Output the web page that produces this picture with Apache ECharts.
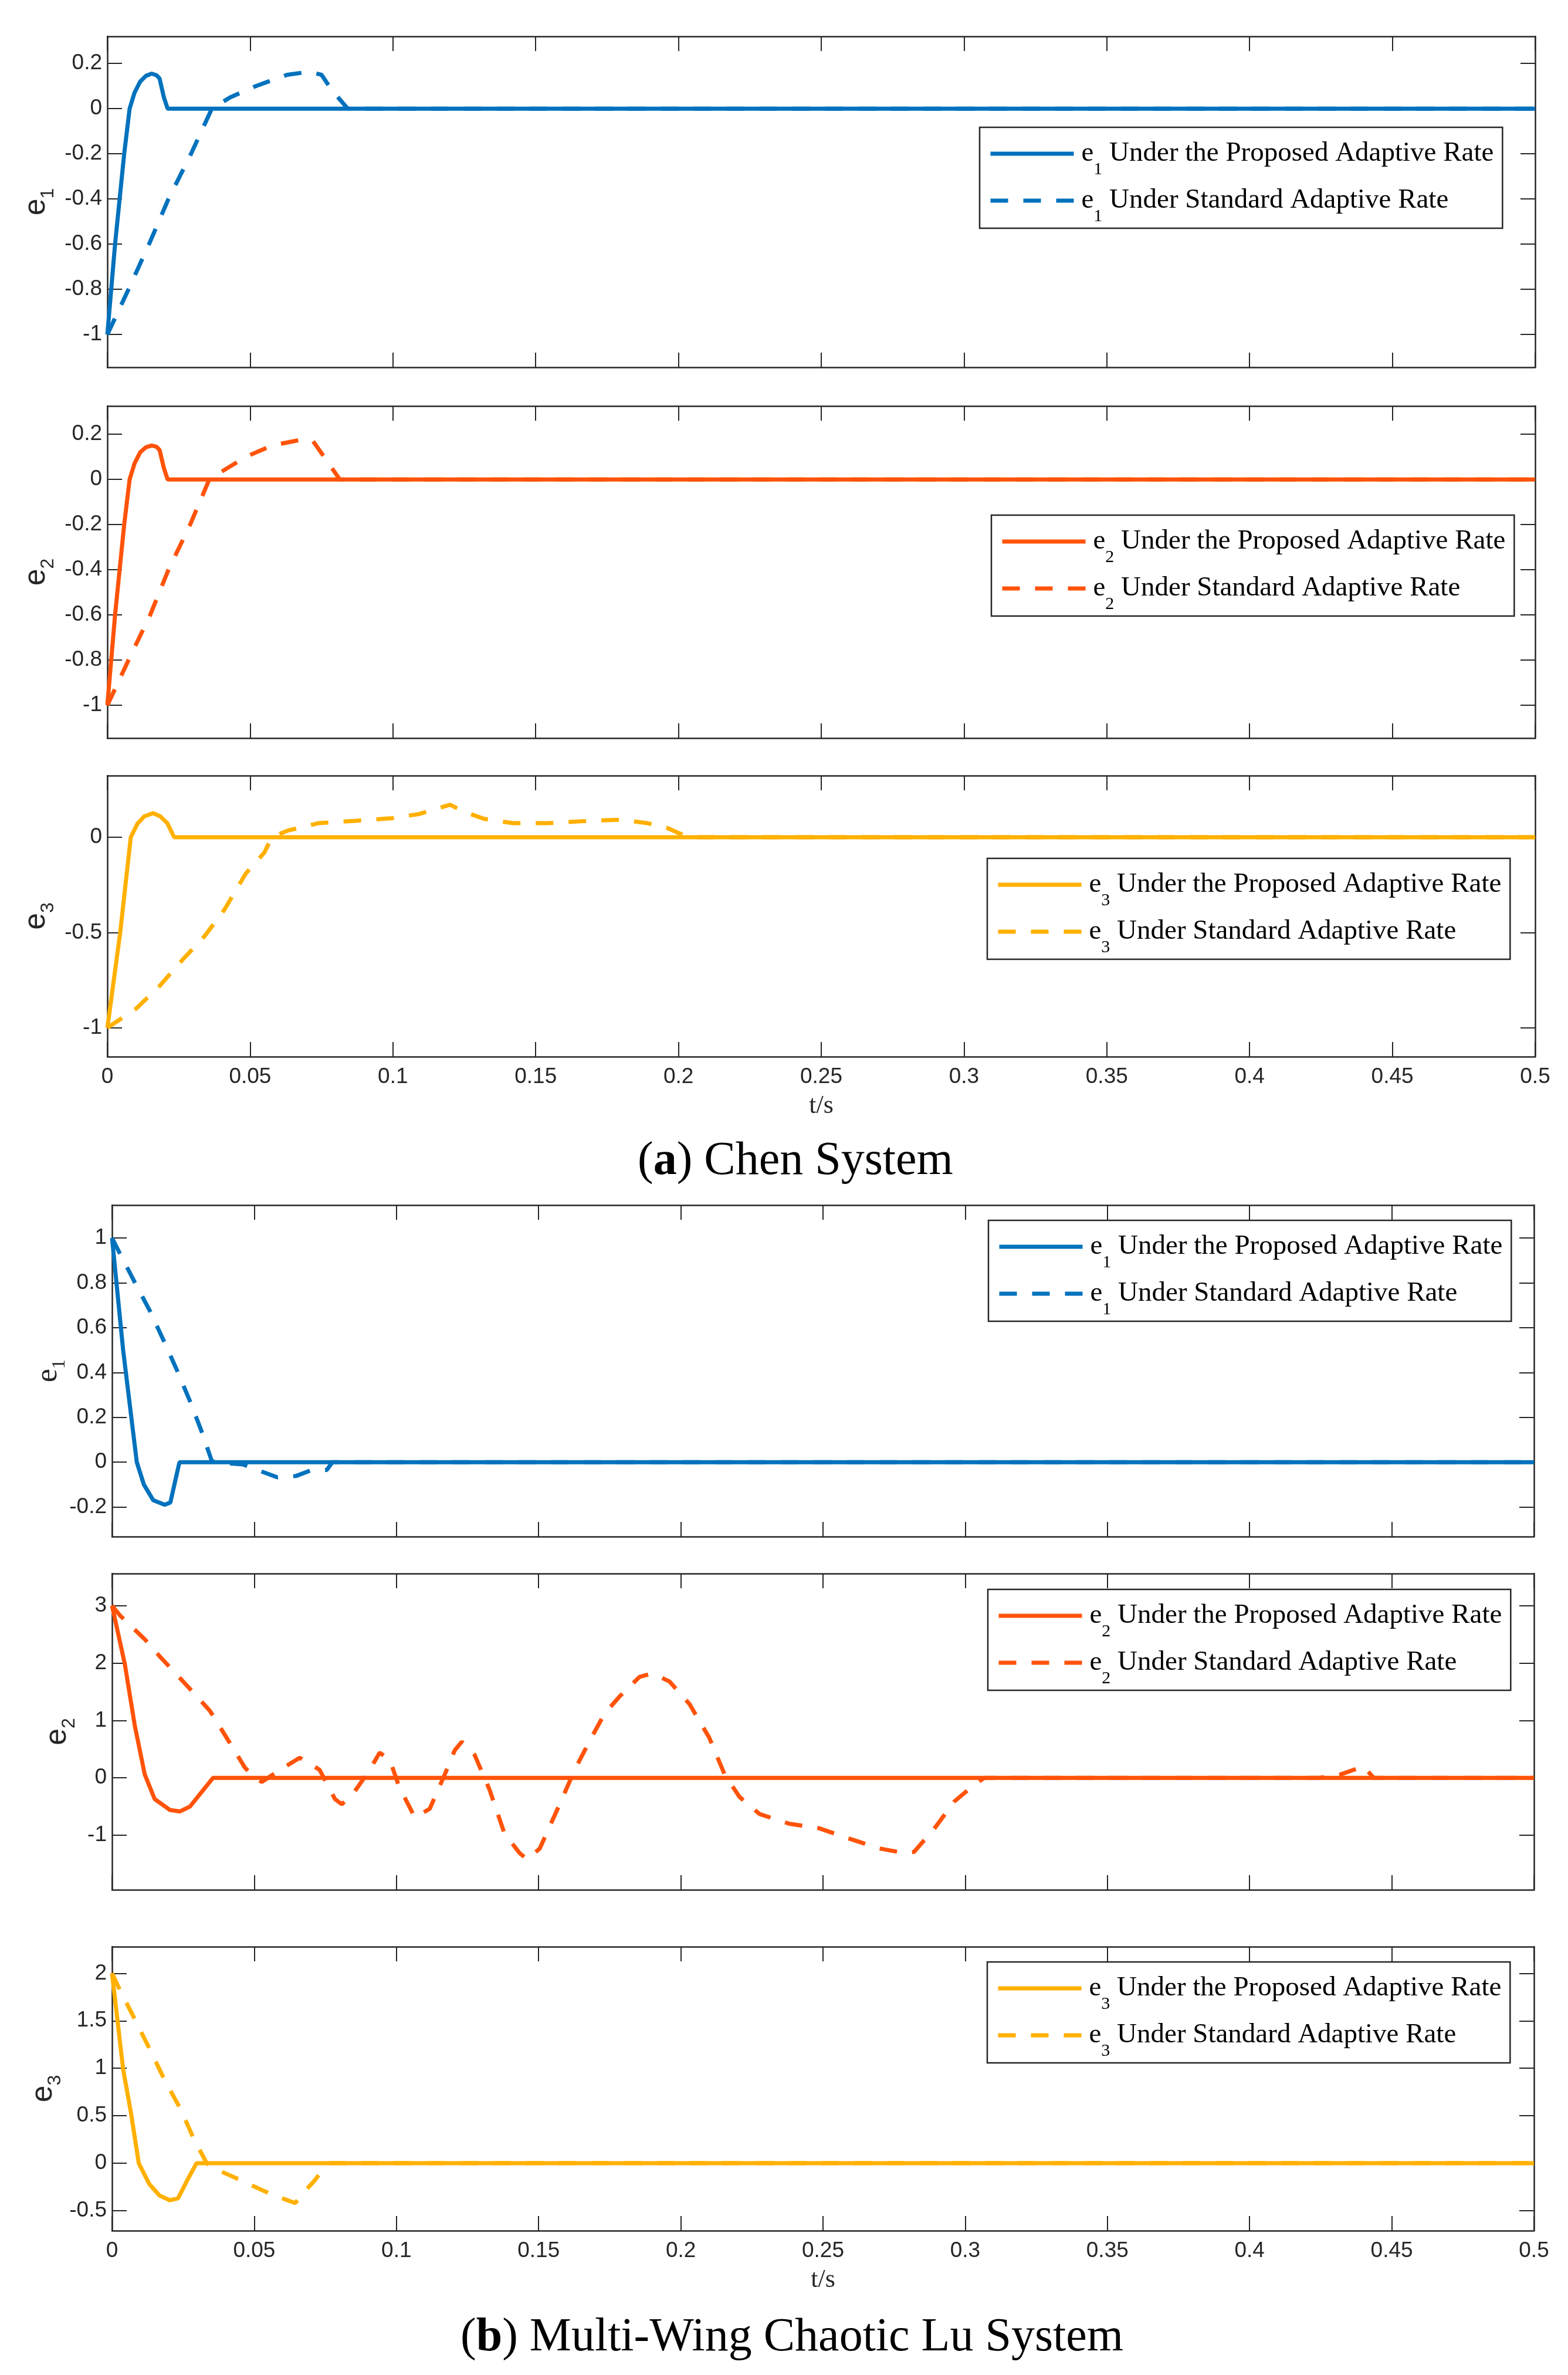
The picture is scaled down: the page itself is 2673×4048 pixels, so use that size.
<!DOCTYPE html>
<html><head><meta charset="utf-8">
<script src="https://cdn.jsdelivr.net/npm/echarts@6/dist/echarts.min.js"></script>
<style>html,body{margin:0;padding:0;background:#fff}#c{width:2673px;height:4048px}</style>
</head><body><div id="c"></div>
<script>
// ---------------- DATA ----------------
// (a) Chen system, [t, e]
const chenE1Proposed = [[0,-1],[0.0027,-0.6],[0.0059,-0.2],[0.0078,0],[0.0095,0.07],[0.0115,0.12],[0.0135,0.145],[0.0155,0.155],[0.0172,0.148],[0.0183,0.133],[0.0198,0.05],[0.0211,0],[0.5,0]];
const chenE1Standard = [[0,-1],[0.0074,-0.8],[0.0146,-0.6],[0.0214,-0.4],[0.0293,-0.2],[0.0366,0],[0.043,0.05],[0.052,0.1],[0.063,0.15],[0.0705,0.163],[0.075,0.15],[0.0787,0.08],[0.0842,0],[0.5,0]];
const chenE2Proposed = [[0,-1],[0.0027,-0.6],[0.0059,-0.2],[0.0078,0],[0.0095,0.07],[0.0115,0.12],[0.0135,0.142],[0.0155,0.15],[0.0172,0.145],[0.0183,0.13],[0.0198,0.05],[0.0211,0],[0.5,0]];
const chenE2Standard = [[0,-1],[0.0074,-0.8],[0.015,-0.6],[0.0214,-0.4],[0.029,-0.2],[0.0357,0],[0.042,0.05],[0.0485,0.1],[0.0576,0.15],[0.0676,0.175],[0.072,0.17],[0.077,0.08],[0.0814,0],[0.5,0]];
const chenE3Proposed = [[0,-1],[0.0045,-0.5],[0.0082,0],[0.0105,0.07],[0.013,0.11],[0.016,0.126],[0.0185,0.11],[0.021,0.074],[0.0234,0],[0.5,0]];
const chenE3Standard = [[0,-1],[0.01,-0.9],[0.0183,-0.78],[0.0265,-0.64],[0.034,-0.52],[0.041,-0.38],[0.0485,-0.19],[0.055,-0.08],[0.0576,0],[0.063,0.034],[0.074,0.074],[0.087,0.086],[0.0998,0.1],[0.109,0.121],[0.12,0.17],[0.125,0.133],[0.132,0.096],[0.142,0.074],[0.1545,0.074],[0.169,0.086],[0.18,0.092],[0.189,0.074],[0.196,0.049],[0.2,0.022],[0.204,0],[0.5,0]];
// (b) Multi-wing chaotic Lu system
const luE1Proposed = [[0,1],[0.0039,0.5],[0.0087,0],[0.0112,-0.1],[0.0145,-0.17],[0.0185,-0.19],[0.0205,-0.18],[0.0237,0],[0.5,0]];
const luE1Standard = [[0,1],[0.0026,0.935],[0.0081,0.8],[0.0134,0.673],[0.0186,0.53],[0.0232,0.4],[0.0278,0.26],[0.0317,0.13],[0.035,0.008],[0.036,0],[0.046,-0.01],[0.0527,-0.042],[0.058,-0.067],[0.0646,-0.062],[0.0698,-0.037],[0.0755,-0.035],[0.0775,0],[0.5,0]];
const luE2Proposed = [[0,3],[0.0045,1.98],[0.008,0.91],[0.0115,0.06],[0.015,-0.37],[0.0204,-0.56],[0.0239,-0.585],[0.0274,-0.5],[0.0355,0],[0.5,0]];
const luE2Standard = [[0,3],[0.0028,2.83],[0.0116,2.41],[0.0169,2.11],[0.0274,1.55],[0.0344,1.17],[0.0414,0.61],[0.0467,0.18],[0.0502,0],[0.0527,-0.07],[0.059,0.14],[0.066,0.35],[0.073,0.14],[0.0784,-0.37],[0.0808,-0.46],[0.0853,-0.24],[0.0906,0.14],[0.0941,0.44],[0.0977,0.31],[0.101,-0.16],[0.1065,-0.69],[0.1117,-0.54],[0.117,0.06],[0.1205,0.48],[0.123,0.63],[0.1275,0.4],[0.1327,-0.2],[0.138,-0.97],[0.1433,-1.31],[0.146,-1.42],[0.1504,-1.23],[0.1574,-0.46],[0.1627,0.14],[0.168,0.65],[0.1732,1.12],[0.1785,1.42],[0.1855,1.76],[0.19,1.82],[0.196,1.68],[0.203,1.29],[0.21,0.7],[0.2154,0.06],[0.2206,-0.33],[0.2277,-0.63],[0.2382,-0.8],[0.2488,-0.88],[0.2593,-1.06],[0.2698,-1.23],[0.2786,-1.31],[0.282,-1.29],[0.2892,-0.88],[0.2962,-0.41],[0.3032,-0.12],[0.3067,0],[0.4244,0],[0.432,0.06],[0.44,0.2],[0.4437,0],[0.5,0]];
const luE3Proposed = [[0,2],[0.0039,0.99],[0.0066,0.54],[0.0094,0],[0.0131,-0.22],[0.0167,-0.34],[0.0204,-0.39],[0.0232,-0.37],[0.0268,-0.16],[0.0297,0],[0.5,0]];
const luE3Standard = [[0,2],[0.003,1.81],[0.0081,1.51],[0.0131,1.21],[0.0186,0.87],[0.0241,0.57],[0.0287,0.26],[0.0333,0],[0.0355,-0.05],[0.0416,-0.13],[0.0461,-0.19],[0.0525,-0.28],[0.0572,-0.34],[0.0644,-0.42],[0.0673,-0.31],[0.071,-0.19],[0.0746,-0.05],[0.0765,0],[0.5,0]];

// tick labels
const yTicksChenE1 = [-1,-0.8,-0.6,-0.4,-0.2,0,0.2];
const yTicksChenE2 = [-1,-0.8,-0.6,-0.4,-0.2,0,0.2];
const yTicksChenE3 = [-1,-0.5,0];
const yTicksLuE1 = [-0.2,0,0.2,0.4,0.6,0.8,1];
const yTicksLuE2 = [-1,0,1,2,3];
const yTicksLuE3 = [-0.5,0,0.5,1,1.5,2];
const legendTexts = ['Under the Proposed Adaptive Rate', 'Under Standard Adaptive Rate'];
const captionA = ['a', ' Chen System'];
const captionB = ['b', ' Multi-Wing Chaotic Lu System'];

// ---------------- LAYOUT ----------------
const BLUE = '#0072BD', ORANGE = '#FF5309', YELLOW = '#FFB000';
const INK = '#262626';
const LW = 7, DASH = [30, 26];
const panels = [
  {key:'a1', idx:'1', color:BLUE,   prop:chenE1Proposed, std:chenE1Standard, ticks:yTicksChenE1, ymin:-1.145, ymax:0.32,
   grid:{left:183, top:62,   width:2434, height:564}, leg:{left:1670, top:217},  nameGap:96, bottom:false, yFont:'Liberation Sans'},
  {key:'a2', idx:'2', color:ORANGE, prop:chenE2Proposed, std:chenE2Standard, ticks:yTicksChenE2, ymin:-1.145, ymax:0.325,
   grid:{left:183, top:692,  width:2434, height:566}, leg:{left:1690, top:878},  nameGap:96, bottom:false, yFont:'Liberation Sans'},
  {key:'a3', idx:'3', color:YELLOW, prop:chenE3Proposed, std:chenE3Standard, ticks:yTicksChenE3, ymin:-1.151, ymax:0.323,
   grid:{left:183, top:1322, width:2434, height:479}, leg:{left:1683, top:1463}, nameGap:96, bottom:true,  yFont:'Liberation Sans'},
  {key:'b1', idx:'1', color:BLUE,   prop:luE1Proposed, std:luE1Standard, ticks:yTicksLuE1, ymin:-0.332, ymax:1.147,
   grid:{left:191, top:2054, width:2424, height:565}, leg:{left:1685, top:2080}, nameGap:84, bottom:false, yFont:'Liberation Serif'},
  {key:'b2', idx:'2', color:ORANGE, prop:luE2Proposed, std:luE2Standard, ticks:yTicksLuE2, ymin:-1.95, ymax:3.56,
   grid:{left:191, top:2682, width:2424, height:539}, leg:{left:1684, top:2709}, nameGap:68, bottom:false, yFont:'Liberation Sans'},
  {key:'b3', idx:'3', color:YELLOW, prop:luE3Proposed, std:luE3Standard, ticks:yTicksLuE3, ymin:-0.71, ymax:2.28,
   grid:{left:191, top:3318, width:2424, height:484}, leg:{left:1683, top:3344}, nameGap:92, bottom:true,  yFont:'Liberation Sans'}
];

const grids = [], xAxes = [], yAxes = [], series = [], legends = [];
const axisLine = {show:true, onZero:false, lineStyle:{color:INK, width:2.5}};
const tick = {show:true, inside:true, length:25, lineStyle:{color:INK, width:2}};
const subIdx = {};
panels.forEach((p, i) => {
  grids.push(Object.assign({outerBoundsMode:'none', containLabel:false}, p.grid));
  xAxes.push({gridIndex:i, type:'value', position:'bottom', min:0, max:0.5, interval:0.05,
    axisLine, axisTick:tick, splitLine:{show:false},
    axisLabel:{show:p.bottom, fontFamily:'Liberation Sans', fontSize:37, color:INK, margin:16},
    name:p.bottom ? 't/s' : '', nameLocation:'middle', nameGap:62, nameMoveOverlap:false,
    nameTextStyle:{fontFamily:'Liberation Serif', fontSize:44, color:INK}});
  xAxes.push({gridIndex:i, type:'value', position:'top', min:0, max:0.5, interval:0.05,
    axisLine, axisTick:tick, splitLine:{show:false}, axisLabel:{show:false}});
  yAxes.push({gridIndex:i, type:'value', position:'left', min:p.ymin, max:p.ymax,
    axisLine, axisTick:Object.assign({customValues:p.ticks}, tick), splitLine:{show:false},
    axisLabel:{customValues:p.ticks, formatter:v => String(v), fontFamily:'Liberation Sans', fontSize:37, color:INK, margin:9},
    name:'{e|e}{s|' + p.idx + '}', nameLocation:'middle', nameRotate:90, nameGap:p.nameGap, nameMoveOverlap:false,
    nameTextStyle:{color:INK, rich:{
      e:{fontFamily:p.yFont, fontSize:52, lineHeight:50, color:INK},
      s:{fontFamily:p.yFont, fontSize:32, lineHeight:50, color:INK, padding:[40,0,0,0]}}}});
  yAxes.push({gridIndex:i, type:'value', position:'right', min:p.ymin, max:p.ymax,
    axisLine, axisTick:Object.assign({customValues:p.ticks}, tick), splitLine:{show:false},
    axisLabel:{show:false, customValues:p.ticks}});
  const nP = p.key + ' proposed', nS = p.key + ' standard';
  subIdx[nP] = [p.idx, 0]; subIdx[nS] = [p.idx, 1];
  series.push({type:'line', name:nP, xAxisIndex:2*i, yAxisIndex:2*i, data:p.prop, symbol:'none', showSymbol:false,
    lineStyle:{color:p.color, width:LW, type:'solid'}, itemStyle:{color:p.color}, z:3});
  series.push({type:'line', name:nS, xAxisIndex:2*i, yAxisIndex:2*i, data:p.std, symbol:'none', showSymbol:false,
    lineStyle:{color:p.color, width:LW, type:DASH}, itemStyle:{color:p.color}, z:4});
  legends.push({
    data:[
      {name:nP, itemStyle:{opacity:0}, lineStyle:{color:p.color, width:LW, type:'solid'}},
      {name:nS, itemStyle:{opacity:0}, lineStyle:{color:p.color, width:LW, type:DASH}}
    ],
    orient:'vertical', left:p.leg.left, top:p.leg.top,
    padding:[3,15,5,15], itemWidth:142, itemHeight:14, itemGap:-4,
    backgroundColor:'#fff', borderColor:INK, borderWidth:2.5, borderRadius:0, selectedMode:false,
    formatter: name => '{e|e}{s|' + subIdx[name][0] + '}{t| ' + legendTexts[subIdx[name][1]] + '}',
    textStyle:{fontFamily:'Liberation Serif', fontSize:47, color:'#000', lineHeight:50, rich:{
      e:{fontFamily:'Liberation Serif', fontSize:47, lineHeight:50, color:'#000', padding:[0,0,0,8]},
      s:{fontFamily:'Liberation Serif', fontSize:30, lineHeight:50, color:'#000', padding:[54,0,0,0]},
      t:{fontFamily:'Liberation Serif', fontSize:47, lineHeight:50, color:'#000'}}}});
});

const capStyle = {fontFamily:'Liberation Serif', fontSize:80, fontWeight:'normal', color:'#000',
  rich:{b:{fontFamily:'Liberation Serif', fontSize:80, fontWeight:'bold', color:'#000'}}};
const titles = [
  {text:'({b|' + captionA[0] + '})' + captionA[1], left:1087, top:1940, padding:0, textStyle:capStyle},
  {text:'({b|' + captionB[0] + '})' + captionB[1], left:785, top:3945, padding:0, textStyle:capStyle}
];

const chart = echarts.init(document.getElementById('c'), null, {renderer:'canvas'});
chart.setOption({
  animation:false, backgroundColor:'#fff',
  title:titles, grid:grids, xAxis:xAxes, yAxis:yAxes, legend:legends, series:series
});
</script></body></html>
